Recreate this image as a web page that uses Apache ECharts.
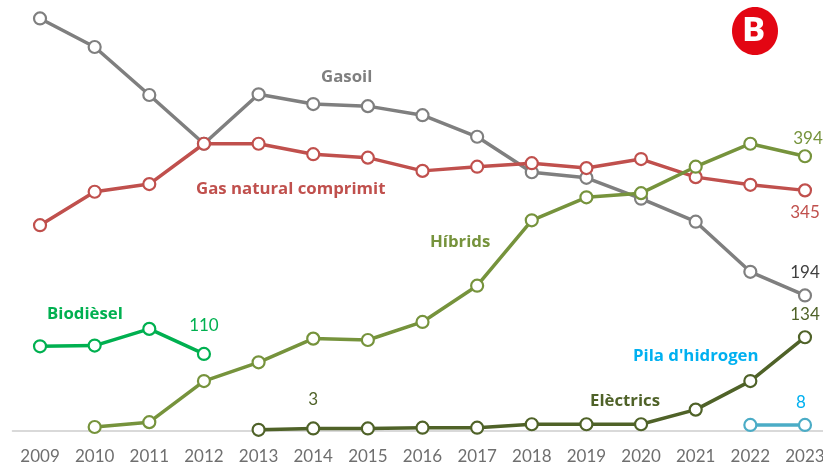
<!DOCTYPE html>
<html><head><meta charset="utf-8">
<style>html,body{margin:0;padding:0;background:#fff}#c{width:823px;height:465px}</style>
<script src="https://cdn.jsdelivr.net/npm/echarts@6/dist/echarts.min.js"></script>
</head><body><div id="c"></div>
<script>
var years = ['2009','2010','2011','2012','2013','2014','2015','2016','2017','2018','2019','2020','2021','2022','2023'];
var gasoil = [592,551,482,412,483,469,466,453,422,371,363,333,300,228,194];
var gasNatural = [295,343,354,412,412,397,392,373,379,384,377,390,364,353,345];
var hibrids = [null,5,12,71,98,132,130,156,208,302,335,341,379,412,394];
var electrics = [null,null,null,null,1,3,3,4,4,9,9,9,30,71,134];
var biodiesel = [121,122,146,110,null,null,null,null,null,null,null,null,null,null,null];
var pila = [null,null,null,null,null,null,null,null,null,null,null,null,null,8,8];

var FONT = 'Lato';
function withLabel(arr, idx, color, offset){
  return arr.map(function(v,i){
    if(i!==idx) return v;
    return {value:v,label:{show:true,position:'top',color:color,fontFamily:FONT,fontSize:17,offset:offset,formatter:String(v)}};
  });
}
function line(name,data,color,z){
  return {name:name,type:'line',data:data,z:z,symbol:'circle',symbolSize:12,showSymbol:true,connectNulls:false,animation:false,
    lineStyle:{color:color,width:3.5},
    itemStyle:{color:'#fff',borderColor:color,borderWidth:2.2},
    emphasis:{disabled:true}};
}
function note(text,x,y,color){
  return {type:'text',left:x,top:y,z:50,style:{text:text,fill:color,font:'bold 16.8px "Open Sans"'}};
}
var chart = echarts.init(document.getElementById('c'),null,{renderer:'canvas'});
chart.setOption({
  animation:false,
  backgroundColor:'#fff',
  grid:{left:12.7,width:819.6,top:0,bottom:34.5,outerBoundsMode:'none',containLabel:false},
  xAxis:{type:'category',data:years,boundaryGap:true,
    axisLine:{show:true,lineStyle:{color:'#d9d9d9',width:2}},
    axisTick:{show:false},
    axisLabel:{color:'#6f6f6f',fontFamily:FONT,fontSize:17,margin:18,interval:0}},
  yAxis:{type:'value',min:0,max:618.5,show:false,splitLine:{show:false}},
  series:[
    line('Gasoil',withLabel(gasoil,14,'#404040',[0,-2]),'#7f7f7f',2),
    line('Gas natural comprimit',withLabel(gasNatural,14,'#c0504d',[0,43]),'#c0504d',3),
    line('Híbrids',withLabel(hibrids,14,'#76933c',[3,3]),'#76933c',4),
    line('Elèctrics',withLabel(withLabel(electrics,14,'#4f6228',[0,-2]),5,'#4f6228',[0,-8]),'#4f6228',5),
    line('Biodièsel',withLabel(biodiesel,3,'#00b050',[0,-8]),'#00b050',4),
    line("Pila d'hidrogen",withLabel(pila,14,'#00b0f0',[-4,-2]),'#4bacc6',4)
  ],
  graphic:[
    note('Gasoil',321,69,'#7f7f7f'),
    note('Gas natural comprimit',196,181,'#c0504d'),
    note('Híbrids',430,234,'#76933c'),
    note('Biodièsel',47,306,'#00b050'),
    note("Pila d'hidrogen",633,348,'#00b0f0'),
    note('Elèctrics',590,393,'#4f6228'),
    {type:'ellipse',z:60,shape:{cx:755,cy:31,rx:23,ry:24},style:{fill:'#e30613'}},
    {type:'text',z:61,left:743,top:15,style:{text:'B',fill:'#fff',font:'900 34px Roboto'}}
  ]
});
</script></body></html>
